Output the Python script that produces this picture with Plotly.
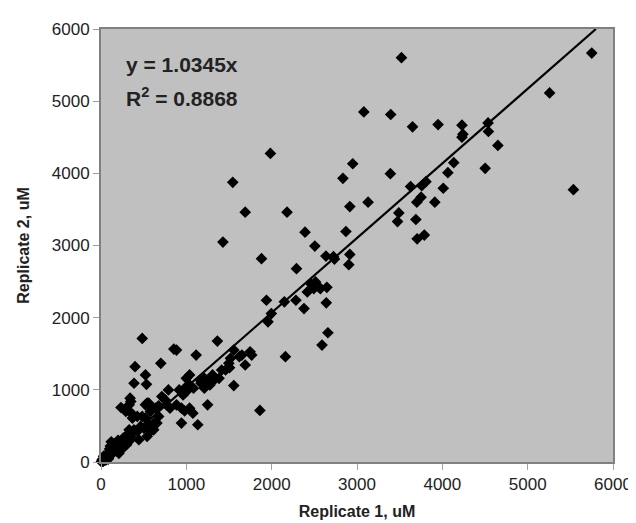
import plotly.graph_objects as go

# Replicate 1 (x) and Replicate 2 (y), uM
rep1 = [
    3521, 5751, 5257, 3080, 3395, 3651, 3950, 4230, 4241, 4230, 4536, 4540, 4651, 4502, 4134, 4065,
    5536, 2950, 2835, 3391, 3628, 3759, 3808, 3751, 3701, 3912, 4011, 2916, 3130, 3490, 3475, 3690,
    3705, 3789, 2870, 2916, 2724,
    2180, 2391, 2506, 2636, 2736, 2904, 2291, 2456, 2514, 2552, 2418, 2494, 2647, 2571, 2149, 1939,
    2284, 1996, 1957, 2379, 2640, 2659, 2590, 2161,
    1544, 1690, 1429, 1881, 1364, 1115, 1556, 1747, 1651, 1766, 1985,
    483, 854, 885, 701, 399, 521, 387, 533, 1038, 1000, 1211, 1172, 1307, 1318, 1517, 1498, 1690,
    1621, 1414, 1506, 1299, 1276, 1268, 1556, 1862, 341, 234, 310, 368, 425, 540, 579, 636, 675,
    713, 751, 790, 770, 808, 885, 943, 980, 1038, 1077, 943, 1134, 1000, 962, 916, 980, 1038, 1084,
    1172, 1230, 1211, 1383, 1460, 1249, 617, 559, 521, 464, 425, 349, 540, 444, 502,
    291, 330, 349, 368, 483, 521, 559, 579, 655, 675, 387, 330, 579, 617,
    10, 20, 30, 40, 50, 60, 70, 80, 90, 100, 110, 120, 130, 140, 150, 160, 170, 180, 190, 200,
    210, 220, 230, 240, 250, 260, 270, 280, 290, 300, 320, 340, 150, 200, 100, 250, 60, 5, 35, 75,
    120, 180, 120, 180, 25, 45, 65, 85, 15, 260, 50, 90, 140, 210, 280, 310, 30, 110, 230, 300,
]
rep2 = [
    5602, 5666, 5114, 4851, 4815, 4644, 4676, 4667, 4543, 4501, 4699, 4580, 4387, 4069, 4147, 4009,
    3774, 4133, 3931, 3995, 3816, 3829, 3884, 3669, 3600, 3600, 3793, 3540, 3600, 3452, 3332, 3360,
    3093, 3144, 3194, 2877, 2845,
    3462, 3185, 2992, 2854, 2812, 2734, 2679, 2472, 2495, 2426, 2357, 2403, 2421, 2403, 2219, 2241,
    2241, 2057, 1943, 2126, 2205, 1791, 1620, 1459,
    3876, 3462, 3048, 2817, 1675, 1482, 1551, 1528, 1482, 1482, 4276,
    1712, 1565, 1551, 1367, 1321, 1206, 1091, 1077, 1206, 1160, 1160, 1123, 1206, 1137, 1436, 1367, 1344,
    1459, 1275, 1307, 1105, 1068, 1137, 1059, 714, 884, 755, 722, 663, 631, 815, 769, 746, 778,
    907, 861, 999, 792, 746, 792, 746, 709, 746, 677, 539, 516, 976, 930, 999, 1022, 1068, 1022,
    1091, 1137, 1022, 1160, 1275, 792, 539, 516, 608, 493, 423, 354, 354, 308, 470,
    700, 792, 838, 608, 631, 792, 815, 700, 539, 631, 446, 446, 424, 446,
    15, 30, 20, 55, 40, 80, 50, 100, 120, 90, 140, 110, 170, 130, 180, 160, 200, 150, 230, 210,
    180, 250, 270, 220, 300, 280, 240, 310, 350, 270, 330, 300, 250, 300, 180, 200, 30, 5, 45, 70,
    150, 260, 280, 200, 10, 25, 60, 40, 35, 330, 90, 60, 200, 120, 230, 380, 80, 220, 160, 240,
]

slope = 1.0345
r2 = 0.8868
line_x = [0, 6000 / slope]
line_y = [slope * v for v in line_x]

x_ticks = [0, 1000, 2000, 3000, 4000, 5000, 6000]
y_ticks = [0, 1000, 2000, 3000, 4000, 5000, 6000]

font_family = "Arial, Liberation Sans, sans-serif"

fig = go.Figure()
fig.add_trace(go.Scatter(
    x=line_x, y=line_y, mode="lines",
    line=dict(color="black", width=2.2),
    showlegend=False, hoverinfo="skip",
))
fig.add_trace(go.Scatter(
    x=rep1, y=rep2, mode="markers",
    marker=dict(symbol="diamond", size=9, color="black", line=dict(width=0)),
    cliponaxis=False, showlegend=False,
))

fig.add_annotation(x=270, y=5510, xref="x", yref="y", text=f"y = {slope}x",
                   showarrow=False, xanchor="left", yanchor="middle",
                   font=dict(family=font_family, size=21, color="#222222", weight="bold"))
fig.add_annotation(x=270, y=5054, xref="x", yref="y", text=f"R<sup>2</sup> = {r2}",
                   showarrow=False, xanchor="left", yanchor="middle",
                   font=dict(family=font_family, size=21, color="#222222", weight="bold"))

axis_common = dict(
    range=[0, 6000], showgrid=False, zeroline=False,
    showline=True, linecolor="#808080", linewidth=2, mirror=True,
    ticks="outside", ticklen=6, tickcolor="#A0A0A0", tickwidth=1,
    tickfont=dict(family=font_family, size=17, color="#222222"),
)

fig.update_layout(
    width=636, height=523,
    margin=dict(l=93, r=21, t=19, b=69),
    paper_bgcolor="white", plot_bgcolor="#C0C0C0",
    xaxis=dict(**axis_common, tickvals=x_ticks,
               title=dict(text="Replicate 1, uM", standoff=12,
                          font=dict(family=font_family, size=16, color="#222222", weight="bold"))),
    yaxis=dict(**axis_common, tickvals=y_ticks,
               title=dict(text="Replicate 2, uM", standoff=18,
                          font=dict(family=font_family, size=16, color="#222222", weight="bold"))),
)

fig.write_html("out.html")
